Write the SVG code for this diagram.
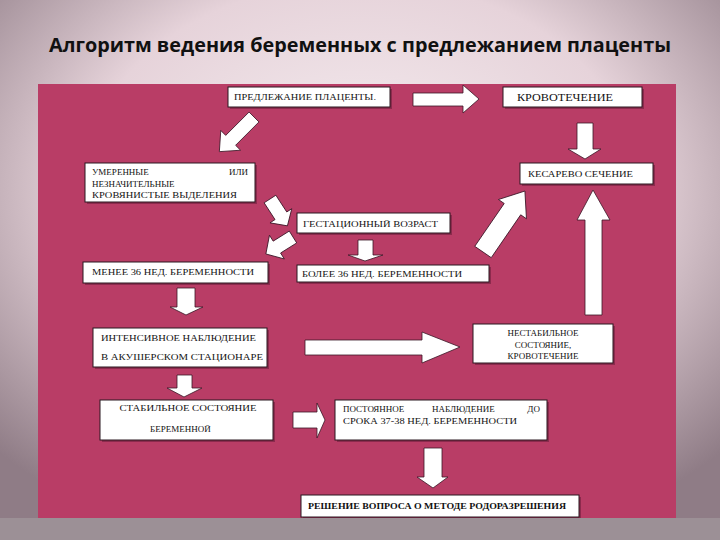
<svg xmlns="http://www.w3.org/2000/svg" width="720" height="540" viewBox="0 0 720 540">
<defs>
<radialGradient id="bg" cx="50%" cy="35%" r="70%">
<stop offset="0" stop-color="#F6EEF1"/>
<stop offset="0.55" stop-color="#E6D3DA"/>
<stop offset="1" stop-color="#8F7C86"/>
</radialGradient>
<style>
.box{fill:#FFFFFF;stroke:#2A1820;stroke-width:1}
.sh{fill:#6E1E3C;opacity:0.6}
.arr{fill:#FFFFFF;stroke:#3A1626;stroke-width:0.8;stroke-linejoin:miter}
.t{font-family:"Liberation Serif","Times New Roman",serif;font-size:9px;fill:#111111}
.title{font-family:"Open Sans","Noto Sans","Liberation Sans",sans-serif;font-weight:bold;font-size:19px;fill:#111111}
</style>
</defs>
<rect x="0" y="0" width="720" height="540" fill="url(#bg)"/>
<rect x="0" y="518" width="720" height="22" fill="#9C9096"/>
<text class="title" x="360" y="52" text-anchor="middle" textLength="622" lengthAdjust="spacingAndGlyphs">Алгоритм ведения беременных с предлежанием плаценты</text>
<rect x="38" y="84" width="638" height="434" fill="#B93D66"/>

<g id="connectors">
<polygon class="arr" points="413,93 463,93 463,85 479,99 463,113 463,106 413,106"/>
<polygon class="arr" points="577,123 593,123 593,149 601,149 585,159 568,149 577,149"/>
<polygon class="arr" points="585,315 602,315 602,220 610,220 593,190 577,220 585,220"/>
<polygon class="arr" transform="translate(483,252) rotate(-55.5)" points="0,-10 52,-10 52,-17 74,0 52,17 52,10 0,10"/>
<polygon class="arr" transform="translate(254,117) rotate(135)" points="0,-7 33,-7 33,-14 49,0 33,14 33,7 0,7"/>
<polygon class="arr" transform="translate(270,199) rotate(57)" points="0,-7 20,-7 20,-13 32,0 20,13 20,7 0,7"/>
<polygon class="arr" transform="translate(293,237) rotate(148)" points="0,-7 19,-7 19,-14 32,0 19,14 19,7 0,7"/>
<polygon class="arr" points="358,240 373,240 373,255 383,255 365,261 348,255 358,255"/>
<polygon class="arr" points="177,288 195,288 195,307 203,307 186,315 170,307 177,307"/>
<polygon class="arr" points="305,340 422,340 422,332 460,347 422,363 422,355 305,355"/>
<polygon class="arr" points="177,375 192,375 192,388 202,388 184,397 167,388 177,388"/>
<polygon class="arr" points="293,412 317,412 317,403 325,420 317,438 317,428 293,428"/>
<polygon class="arr" points="424,448 442,448 442,477 448,477 433,488 417,477 424,477"/>
</g>

<g id="n1">
<rect class="sh" x="230" y="89" width="162" height="20"/>
<rect class="box" x="228" y="87" width="162" height="20"/>
<text class="t" x="234" y="100" textLength="142" lengthAdjust="spacingAndGlyphs">ПРЕДЛЕЖАНИЕ ПЛАЦЕНТЫ.</text>
</g>
<g id="n2">
<rect class="sh" x="505" y="89" width="139" height="20"/>
<rect class="box" x="503" y="87" width="139" height="20"/>
<text class="t" x="517" y="101" style="font-size:10.5px" textLength="96" lengthAdjust="spacingAndGlyphs">КРОВОТЕЧЕНИЕ</text>
</g>
<g id="n3">
<rect class="sh" x="87" y="165" width="170" height="39"/>
<rect class="box" x="85" y="163" width="170" height="39"/>
<text class="t" x="92" y="175">УМЕРЕННЫЕ</text>
<text class="t" x="248" y="175" text-anchor="end">ИЛИ</text>
<text class="t" x="92" y="187">НЕЗНАЧИТЕЛЬНЫЕ</text>
<text class="t" x="92" y="198" textLength="145" lengthAdjust="spacingAndGlyphs">КРОВЯНИСТЫЕ ВЫДЕЛЕНИЯ</text>
</g>
<g id="n4">
<rect class="sh" x="522" y="165" width="133" height="21"/>
<rect class="box" x="520" y="163" width="133" height="21"/>
<text class="t" x="528" y="177" textLength="105" lengthAdjust="spacingAndGlyphs">КЕСАРЕВО СЕЧЕНИЕ</text>
</g>
<g id="n5">
<rect class="sh" x="299" y="215" width="153" height="20"/>
<rect class="box" x="297" y="213" width="153" height="20"/>
<text class="t" x="303" y="227" textLength="135" lengthAdjust="spacingAndGlyphs">ГЕСТАЦИОННЫЙ ВОЗРАСТ</text>
</g>
<g id="n6">
<rect class="sh" x="85" y="264" width="185" height="21"/>
<rect class="box" x="83" y="262" width="185" height="21"/>
<text class="t" x="92" y="275" textLength="162" lengthAdjust="spacingAndGlyphs">МЕНЕЕ 36 НЕД. БЕРЕМЕННОСТИ</text>
</g>
<g id="n7">
<rect class="sh" x="299" y="267" width="192" height="17"/>
<rect class="box" x="297" y="265" width="192" height="17"/>
<text class="t" x="302" y="277" textLength="160" lengthAdjust="spacingAndGlyphs">БОЛЕЕ 36 НЕД. БЕРЕМЕННОСТИ</text>
</g>
<g id="n8">
<rect class="sh" x="95" y="330" width="174" height="39"/>
<rect class="box" x="93" y="328" width="174" height="39"/>
<text class="t" x="101" y="341" textLength="155" lengthAdjust="spacingAndGlyphs">ИНТЕНСИВНОЕ НАБЛЮДЕНИЕ</text>
<text class="t" x="101" y="360" textLength="162" lengthAdjust="spacingAndGlyphs">В АКУШЕРСКОМ СТАЦИОНАРЕ</text>
</g>
<g id="n9">
<rect class="sh" x="475" y="326" width="140" height="39"/>
<rect class="box" x="473" y="324" width="140" height="39"/>
<text class="t" x="543" y="336" text-anchor="middle">НЕСТАБИЛЬНОЕ</text>
<text class="t" x="543" y="348" text-anchor="middle">СОСТОЯНИЕ,</text>
<text class="t" x="543" y="359" text-anchor="middle">КРОВОТЕЧЕНИЕ</text>
</g>
<g id="n10">
<rect class="sh" x="102" y="402" width="173" height="40"/>
<rect class="box" x="100" y="400" width="173" height="40"/>
<text class="t" x="188" y="411" text-anchor="middle" textLength="137" lengthAdjust="spacingAndGlyphs">СТАБИЛЬНОЕ СОСТОЯНИЕ</text>
<text class="t" x="150" y="432">БЕРЕМЕННОЙ</text>
</g>
<g id="n11">
<rect class="sh" x="337" y="402" width="212" height="40"/>
<rect class="box" x="335" y="400" width="212" height="40"/>
<text class="t" x="343" y="412">ПОСТОЯННОЕ</text>
<text class="t" x="432" y="412">НАБЛЮДЕНИЕ</text>
<text class="t" x="540" y="412" text-anchor="end">ДО</text>
<text class="t" x="343" y="424" textLength="174" lengthAdjust="spacingAndGlyphs">СРОКА 37-38 НЕД. БЕРЕМЕННОСТИ</text>
</g>
<g id="n12">
<rect class="sh" x="303" y="497" width="278" height="21"/>
<rect class="box" x="301" y="495" width="278" height="22"/>
<text class="t" x="308" y="509" style="font-weight:bold" textLength="258" lengthAdjust="spacingAndGlyphs">РЕШЕНИЕ ВОПРОСА О МЕТОДЕ РОДОРАЗРЕШЕНИЯ</text>
</g>
</svg>
